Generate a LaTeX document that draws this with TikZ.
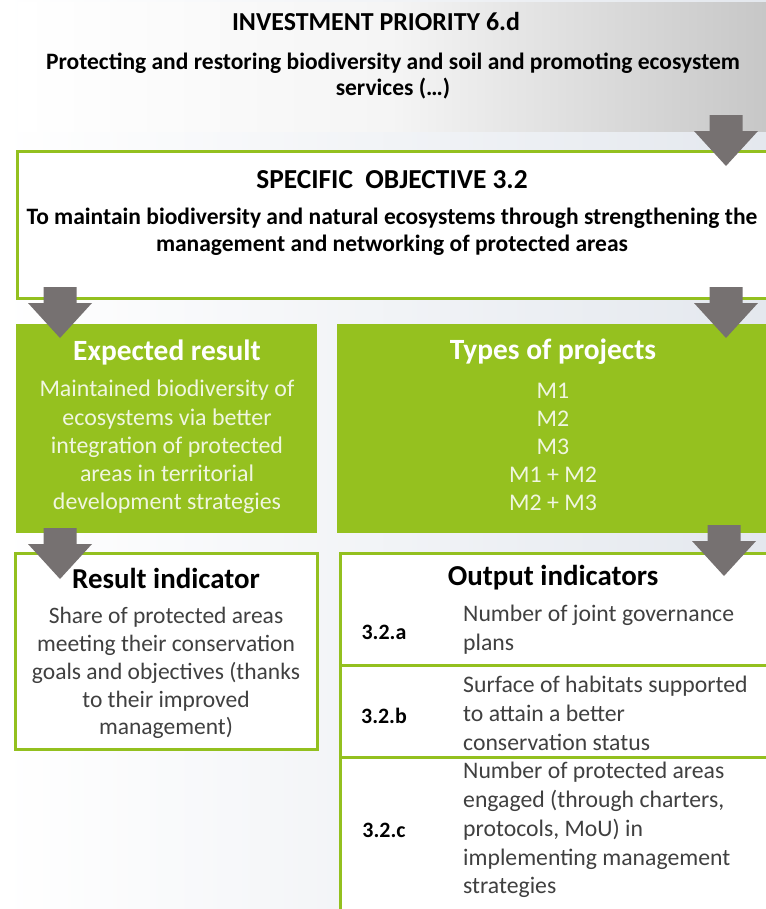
\documentclass[tikz,border=0pt]{standalone}
\usepackage{fontspec}
\setmainfont{Carlito}
\definecolor{lgreen}{HTML}{95C11F}
\definecolor{bgreen}{HTML}{93C01F}
\definecolor{agray}{HTML}{767171}
\definecolor{tgray}{HTML}{404040}
\definecolor{gtext}{HTML}{F0F6E0}
\definecolor{bgright}{HTML}{E4E8EE}
\begin{document}
\begin{tikzpicture}[x=1bp,y=-1bp,
  whitebox/.style={draw=bgreen, line width=3bp, fill=white, inner sep=0pt, anchor=north west},
  greenbox/.style={fill=lgreen, inner sep=0pt, anchor=north west},
  headtxt/.style={font=\fontsize{29}{32}\selectfont\bfseries, text=black, inner sep=0pt},
  toptxt/.style={font=\fontsize{26}{30}\selectfont\bfseries, text=black, inner sep=0pt},
  sotxt/.style={font=\fontsize{27.5}{30}\selectfont\bfseries, text=black, inner sep=0pt},
  subtxt/.style={font=\fontsize{23.6}{27}\selectfont\bfseries, text=black, align=center, inner sep=0pt},
  gheadtxt/.style={font=\fontsize{29.5}{32}\selectfont\bfseries, text=white, inner sep=0pt},
  gbodytxt/.style={font=\fontsize{24}{28.25}\selectfont, text=gtext, align=center, inner sep=0pt},
  bodytxt/.style={font=\fontsize{23.6}{28}\selectfont, text=tgray, align=center, inner sep=0pt},
  rowtxt/.style={font=\fontsize{23.8}{29}\selectfont, text=tgray, align=left, anchor=west, inner sep=0pt},
  rowlbl/.style={font=\fontsize{22}{24}\selectfont\bfseries, text=black, inner sep=0pt},
  divider/.style={draw=bgreen, line width=3bp},
  blockarrow/.pic={\fill[agray] (-16.5,0) -- (16.5,0) -- (16.5,16) -- (32,16) -- (0,51) -- (-32,16) -- (-16.5,16) -- cycle;}
]
\clip (0,0) rectangle (766,909);
% background
\shade[left color=white, right color=bgright] (0,0) rectangle (766,909);

% investment priority box
\node[name=ip, anchor=north west, inner sep=0pt, minimum width=748bp, minimum height=129bp,
  left color=white, right color=black!22, middle color=black!4, shading angle=90] at (18,2) {};
\node[toptxt, name=iptitle] at (376,22) {INVESTMENT PRIORITY 6.d};
\node[subtxt, name=iptext] at (393,76) {Protecting and restoring biodiversity and soil and promoting ecosystem\\services (\dots)};

% specific objective box
\node[whitebox, name=so, minimum width=754bp, minimum height=147bp] at (16,150) {};
\node[sotxt, name=sotitle] at (392,180) {SPECIFIC\ \ OBJECTIVE 3.2};
\node[subtxt, name=sotext] at (392,231.5) {To maintain biodiversity and natural ecosystems through strengthening the\\management and networking of protected areas};

% green boxes
\node[greenbox, name=er, minimum width=301bp, minimum height=209bp] at (16,324) {};
\node[gheadtxt, name=ertitle] at (167,352) {Expected result};
\node[gbodytxt, name=ertext] at (167,447) {Maintained biodiversity of\\ecosystems via better\\integration of protected\\areas in territorial\\development strategies};

\node[greenbox, name=tp, minimum width=432bp, minimum height=209bp] at (337,324) {};
\node[gheadtxt, name=tptitle] at (553,352) {Types of projects};
\node[gbodytxt, name=tptext] at (553,447) {M1\\M2\\M3\\M1 + M2\\M2 + M3};

% result indicator
\node[whitebox, name=ri, minimum width=302bp, minimum height=196bp] at (14,552) {};
\node[headtxt, name=rititle] at (166,578) {Result indicator};
\node[bodytxt, name=ritext] at (166,673) {Share of protected areas\\meeting their conservation\\goals and objectives (thanks\\to their improved\\management)};

% output indicators
\node[whitebox, name=oi, minimum width=440bp, minimum height=380bp] at (339,552) {};
\node[headtxt, name=oititle] at (553,578) {Output indicators};
\node[rowlbl, name=la] at (384,632) {3.2.a};
\node[rowtxt, name=ta] at (463,630) {Number of joint governance\\plans};
\coordinate (d1l) at (340,665);
\coordinate (d1r) at (770,665);
\draw[divider] (d1l) -- (d1r);
\node[rowlbl, name=lb] at (384,716) {3.2.b};
\node[rowtxt, name=tb] at (463,713) {Surface of habitats supported\\to attain a better\\conservation status};
\coordinate (d2l) at (340,757);
\coordinate (d2r) at (770,757);
\draw[divider] (d2l) -- (d2r);
\node[rowlbl, name=lc] at (384,830) {3.2.c};
\node[rowtxt, name=tc] at (463,830) {Number of protected areas\\engaged (through charters,\\protocols, MoU) in\\implementing management\\strategies};

% block arrows
\pic at (726,115) {blockarrow};
\pic at (60,287) {blockarrow};
\pic at (726,287) {blockarrow};
\pic at (60,528) {blockarrow};
\pic at (724,525) {blockarrow};
\end{tikzpicture}
\end{document}
